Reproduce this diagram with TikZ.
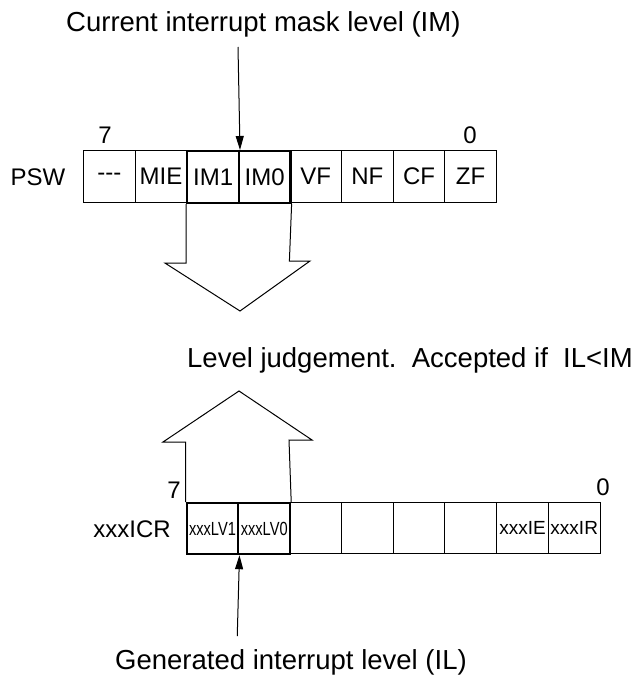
\documentclass[tikz,border=0pt]{standalone}
\usepackage{fontspec}
\setmainfont{Liberation Sans}
\usetikzlibrary{arrows.meta}
\begin{document}
\begin{tikzpicture}[x=1pt,y=-1pt,
  cell/.style={draw,line width=1.2pt,inner sep=0pt,minimum width=51.6pt,minimum height=52pt,anchor=north west,font=\fontsize{24}{26}\selectfont},
  icell/.style={draw,line width=1.2pt,inner sep=0pt,minimum width=51.75pt,minimum height=51pt,anchor=north west,font=\fontsize{19}{21}\selectfont},
  thickcell/.style={line width=2.2pt},
  caption/.style={font=\fontsize{27.5}{30}\selectfont,inner sep=0pt,anchor=west},
  lbl/.style={font=\fontsize{24}{26}\selectfont,inner sep=0pt},
  hollow/.style={draw,line width=1pt,line join=miter},
  ptr/.style={draw,line width=1pt,-{Triangle[length=14pt,width=8pt]}}]
\useasboundingbox (0,0) rectangle (637,676);
% title
\node[caption] (title) at (66,24) {Current interrupt mask level (IM)};
\coordinate (imtop) at (238,47);
% PSW register
\node[lbl] (psw) at (38,177) {PSW};
\node[lbl] (p7) at (105,135) {7};
\node[lbl] (p0) at (470,135) {0};
\node[cell] (c7) at (83,150) {{-}{-}{-}};
\node[cell] (c6) at (134.6,150) {MIE};
\node[cell] (c3) at (289.4,150) {VF};
\node[cell] (c2) at (341,150) {NF};
\node[cell] (c1) at (392.6,150) {CF};
\node[cell] (c0) at (444.2,150) {ZF};
\node[cell,thickcell] (c5) at (186.2,150) {IM1};
\node[cell,thickcell] (c4) at (237.8,150) {IM0};
\draw[ptr] (imtop) -- (c5.north east);
% hollow down arrow
\draw[hollow] (c5.south west) -- ++(0,59) -- ++(-21,0) -- (240,311) -- (310,261) -- (289.4,261) -- (c4.south east);
% judgement text
\node[caption] (judge) at (187,360) {Level judgement.\ \ Accepted if\ \ IL<IM};
% xxxICR register
\node[lbl] (icr) at (132,529) {xxxICR};
\node[lbl] (i7) at (174,490) {7};
\node[lbl] (i0) at (603,487) {0};
\node[icell] (d5) at (289,502) {};
\node[icell] (d4) at (340.75,502) {};
\node[icell] (d3) at (392.5,502) {};
\node[icell] (d2) at (444.25,502) {};
\node[icell] (d1) at (496,502) {xxxIE};
\node[icell] (d0) at (547.75,502) {xxxIR};
\node[icell,thickcell] (d7) at (185.5,502) {\scalebox{0.77}[1]{xxxLV1}};
\node[icell,thickcell] (d6) at (237.25,502) {\scalebox{0.77}[1]{xxxLV0}};
% hollow up arrow
\draw[hollow] (d7.north west) -- (185.5,442) -- (163,442) -- (239,391) -- (312,440) -- (289,440) -- (d6.north east);
% generated level
\node[caption] (gen) at (115,662) {Generated interrupt level (IL)};
\coordinate (genarrow) at (237.25,636);
\draw[ptr] (genarrow) -- (d7.south east);
\end{tikzpicture}
\end{document}
